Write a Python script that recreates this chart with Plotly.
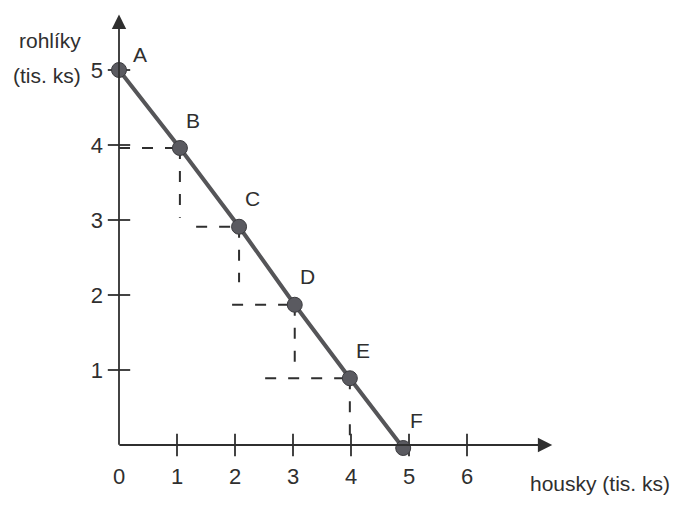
import plotly.graph_objects as go

# ---- data ----
point_labels = ["A", "B", "C", "D", "E", "F"]
housky = [0.0, 1.05, 2.07, 3.03, 3.98, 4.9]       # x values (tis. ks)
rohliky = [5.0, 3.96, 2.91, 1.87, 0.89, -0.04]    # y values (tis. ks)

x_ticks = [0, 1, 2, 3, 4, 5, 6]
y_ticks = [1, 2, 3, 4, 5]

# dashed guide lines: horizontal ones start at these x values (end at the point),
# vertical ones end at these y values (start at the point)
guide_h_start_x = [0.0, 1.33, 1.95, 2.52]   # for points B, C, D, E
guide_v_end_y = [3.03, 2.17, 1.10, 0.0]     # for points B, C, D, E

x_arrow_end = 7.47
y_arrow_end = 5.74

INK = "#2f2f2f"
CURVE = "#555558"
FONT = "Liberation Sans Narrow, Arial Narrow, Liberation Sans, Arial, sans-serif"

# figure geometry (page has an 8px body margin)
W, H = 673, 497
X0_PX, Y0_PX = 111, 437        # pixel position of the origin inside the figure
PX_PER_X, PX_PER_Y = 58, 75
x_range = [-X0_PX / PX_PER_X, (W - X0_PX) / PX_PER_X]
y_range = [-(H - Y0_PX) / PX_PER_Y, Y0_PX / PX_PER_Y]

fig = go.Figure()

DASH = dict(color=INK, width=2, dash="11px,12px")
for i, (hx, vy) in enumerate(zip(guide_h_start_x, guide_v_end_y)):
    px, py = housky[i + 1], rohliky[i + 1]
    fig.add_trace(go.Scatter(x=[hx, px], y=[py, py], mode="lines", line=DASH,
                             hoverinfo="skip", showlegend=False))
    fig.add_trace(go.Scatter(x=[px, px], y=[py, vy], mode="lines", line=DASH,
                             hoverinfo="skip", showlegend=False))

# axes with arrows
fig.add_annotation(x=x_arrow_end, y=0, ax=-0.02, ay=0, xref="x", yref="y",
                   axref="x", ayref="y", showarrow=True, arrowhead=2,
                   arrowsize=1.6, arrowwidth=1.8, arrowcolor=INK, text="")
fig.add_annotation(x=0, y=y_arrow_end, ax=0, ay=-0.015, xref="x", yref="y",
                   axref="x", ayref="y", showarrow=True, arrowhead=2,
                   arrowsize=1.6, arrowwidth=1.8, arrowcolor=INK, text="")

# crossing tick marks
fig.add_trace(go.Scatter(x=x_ticks[1:], y=[0] * (len(x_ticks) - 1), mode="markers",
                         marker=dict(symbol="line-ns", size=16,
                                     line=dict(color=INK, width=1.8)),
                         hoverinfo="skip", showlegend=False))
fig.add_trace(go.Scatter(x=[0] * len(y_ticks), y=y_ticks, mode="markers",
                         marker=dict(symbol="line-ew", size=16,
                                     line=dict(color=INK, width=1.8)),
                         hoverinfo="skip", showlegend=False))

# frontier line with points
fig.add_trace(go.Scatter(x=housky, y=rohliky, mode="lines+markers",
                         line=dict(color=CURVE, width=4),
                         marker=dict(size=15, color="#5a5a60",
                                     line=dict(color="#3a3a3e", width=1)),
                         showlegend=False))

# point labels
for i, lab in enumerate(point_labels):
    dx, dy = (21, 16) if i == 0 else (13, 28)
    fig.add_annotation(x=housky[i], y=rohliky[i], text=lab, showarrow=False,
                       xshift=dx, yshift=dy,
                       font=dict(family=FONT, size=21, color=INK))

# axis titles
TITLE_FONT = dict(family=FONT, size=21, color=INK)
fig.add_annotation(x=-0.62, y=5.4, xref="x", yref="y", xanchor="right",
                   yanchor="middle", showarrow=False, text="rohlíky",
                   font=TITLE_FONT)
fig.add_annotation(x=-0.62, y=4.93, xref="x", yref="y", xanchor="right",
                   yanchor="middle", showarrow=False, text="(tis. ks)",
                   font=TITLE_FONT)
fig.add_annotation(x=7.05, y=-0.51, xref="x", yref="y", xanchor="left",
                   yanchor="middle", showarrow=False, text="housky (tis. ks)",
                   font=TITLE_FONT)

fig.update_layout(
    width=W, height=H,
    margin=dict(l=0, r=0, t=0, b=0, autoexpand=False),
    paper_bgcolor="white", plot_bgcolor="white",
    showlegend=False,
    xaxis=dict(range=x_range, tickvals=x_ticks,
               ticktext=[str(v) for v in x_ticks], ticks="",
               anchor="free", position=(H - Y0_PX) / H,
               showgrid=False, zeroline=False, showline=False,
               ticklabelstandoff=16,
               tickfont=dict(family=FONT, size=22, color=INK)),
    yaxis=dict(range=y_range, tickvals=y_ticks,
               ticktext=[str(v) for v in y_ticks], ticks="",
               anchor="free", position=X0_PX / W,
               showgrid=False, zeroline=False, showline=False,
               ticklabelstandoff=16,
               tickfont=dict(family=FONT, size=22, color=INK)),
)

fig.write_html("out.html")
